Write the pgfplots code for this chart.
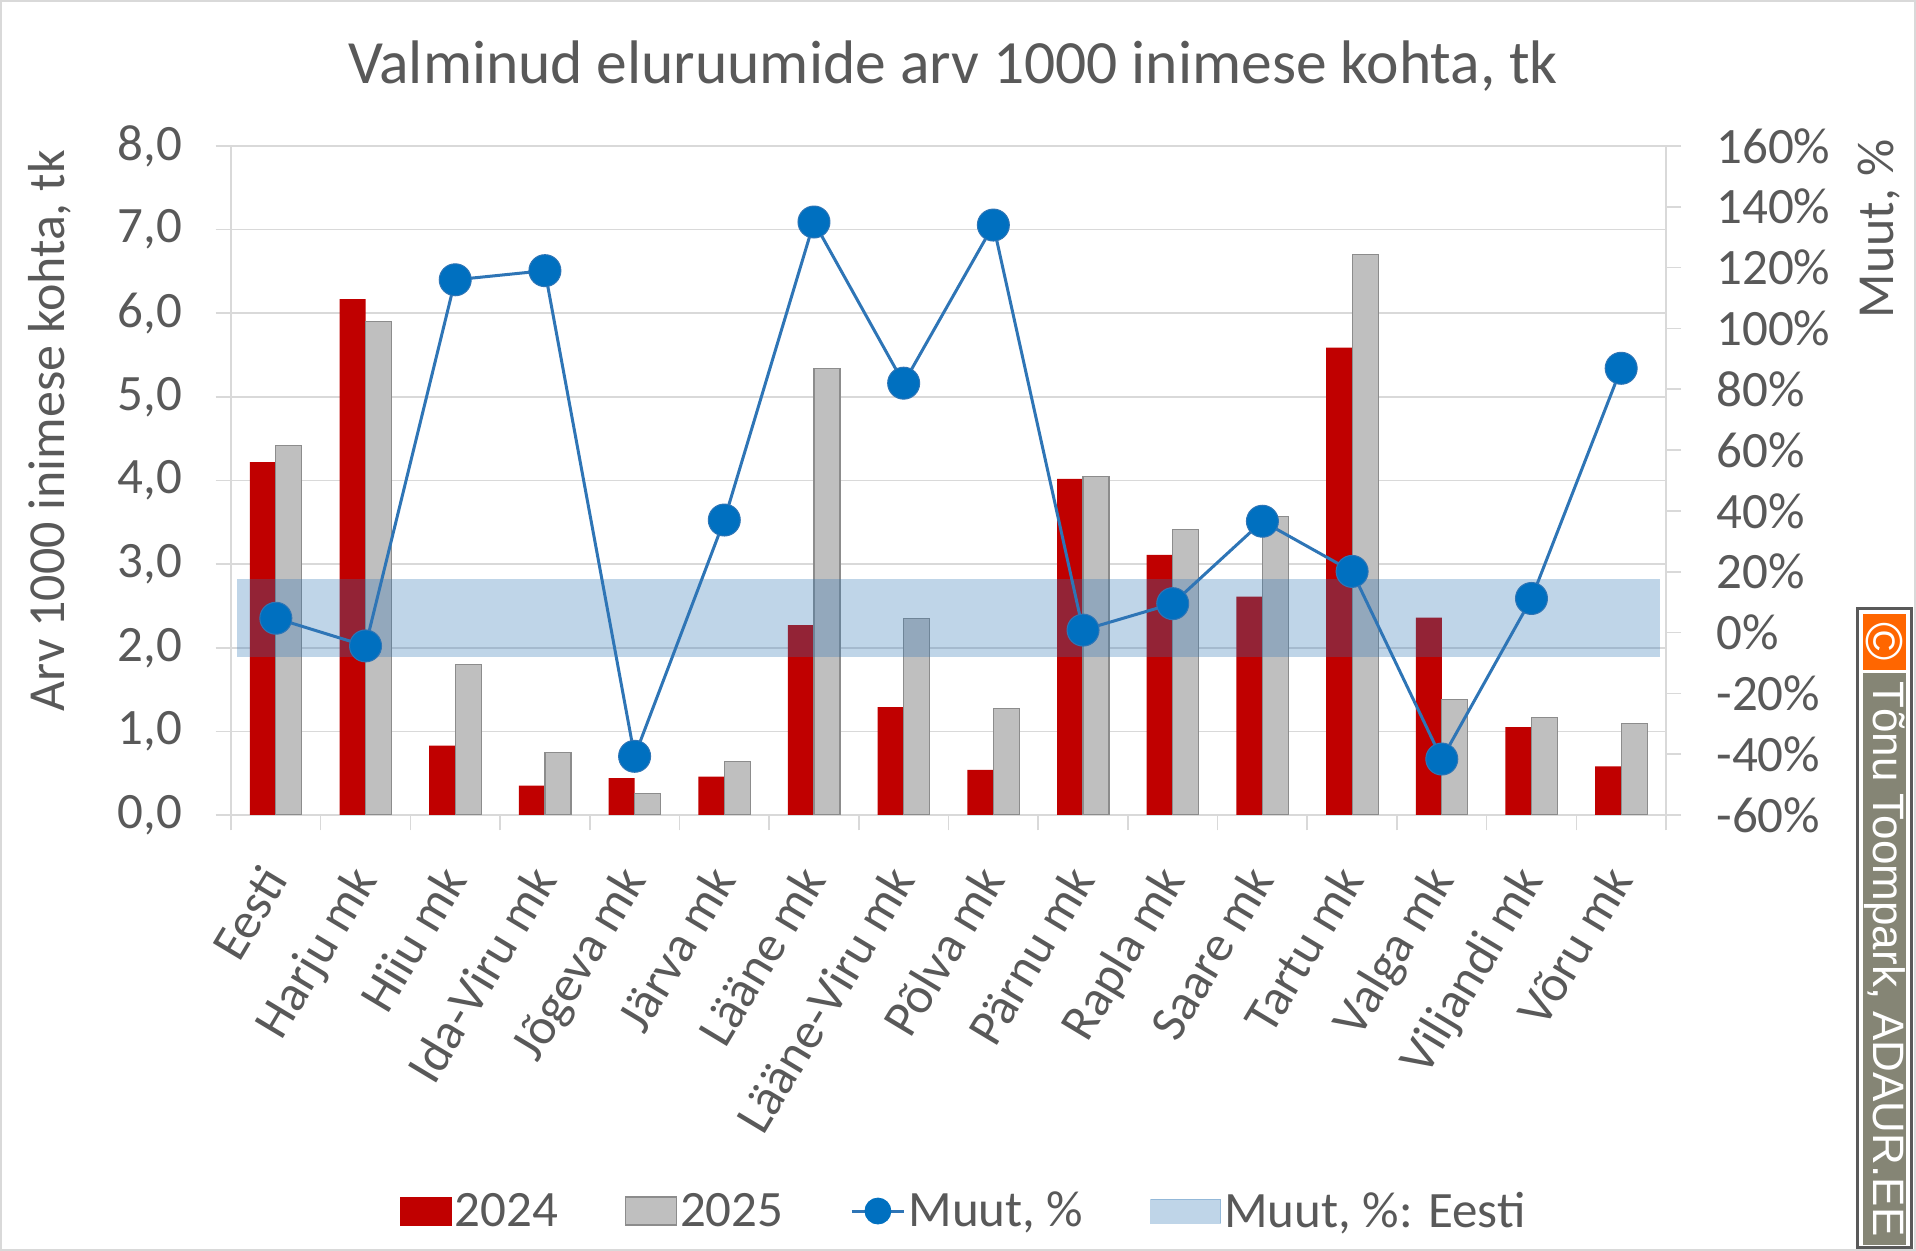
\documentclass[border=0pt]{standalone}
\usepackage{pgfplots}
\pgfplotsset{compat=1.18}
\usepackage{fontspec}
\setmainfont{Carlito}
\newfontfamily\wmfont{Liberation Sans}
\definecolor{txt}{HTML}{595959}
\definecolor{gridc}{HTML}{D9D9D9}
\definecolor{c24}{HTML}{C00000}
\definecolor{c25}{HTML}{BFBFBF}
\definecolor{c25b}{HTML}{8C8C8C}
\definecolor{linec}{HTML}{2E75B6}
\definecolor{markc}{HTML}{0070C0}
\definecolor{bandc}{HTML}{2E75B6}
\definecolor{wmgray}{HTML}{858575}
\definecolor{wmorange}{HTML}{FF6600}
\definecolor{wmborder}{HTML}{595959}
\newcommand{\fs}{\fontsize{25.5}{30}\selectfont}
\begin{document}
\begin{tikzpicture}
\useasboundingbox (0,0) rectangle (958pt,625.5pt);
\fill[white] (0,0) rectangle (958pt,625.5pt);
\draw[gridc, line width=1pt] (0.5pt,0.5pt) rectangle (957.5pt,625pt);

\begin{axis}[
  at={(115.5pt,218pt)}, anchor=south west,
  width=717.5pt, height=334.5pt, scale only axis,
  ybar=0pt, bar width=13pt,
  xmin=-0.5, xmax=15.5, ymin=0, ymax=8,
  enlargelimits=false,
  xtick={-0.5,0.5,1.5,2.5,3.5,4.5,5.5,6.5,7.5,8.5,9.5,10.5,11.5,12.5,13.5,14.5,15.5},
  x tick label as interval,
  xticklabels={Eesti,Harju mk,Hiiu mk,Ida-Viru mk,Jõgeva mk,Järva mk,Lääne mk,Lääne-Viru mk,Põlva mk,Pärnu mk,Rapla mk,Saare mk,Tartu mk,Valga mk,Viljandi mk,Võru mk},
  ytick={0,1,2,3,4,5,6,7,8},
  yticklabels={{0,0},{1,0},{2,0},{3,0},{4,0},{5,0},{6,0},{7,0},{8,0}},
  tick align=outside,
  xtick pos=left, ytick pos=left,
  major tick length=7.75pt,
  tick style={gridc, line width=0.8pt},
  axis line style={gridc, line width=0.8pt},
  ymajorgrids, grid style={gridc, line width=0.8pt},
  tick label style={font=\fs, text=txt},
  yticklabel style={inner sep=0pt, xshift=-16.5pt},
  xticklabel style={xshift=6.75pt, yshift=-24.75pt, rotate=59, anchor=base east, inner sep=0pt},
]
\addplot[fill=c24, draw=none] coordinates {
(0,4.22) (1,6.17) (2,0.83) (3,0.35) (4,0.44) (5,0.46) (6,2.27) (7,1.29)
(8,0.54) (9,4.02) (10,3.11) (11,2.61) (12,5.59) (13,2.36) (14,1.05) (15,0.58)};
\addplot[fill=c25, draw=c25b, line width=0.6pt] coordinates {
(0,4.42) (1,5.90) (2,1.80) (3,0.75) (4,0.26) (5,0.64) (6,5.34) (7,2.35)
(8,1.27) (9,4.05) (10,3.41) (11,3.57) (12,6.70) (13,1.38) (14,1.17) (15,1.09)};
\end{axis}

\begin{axis}[
  at={(115.5pt,218pt)}, anchor=south west,
  width=717.5pt, height=334.5pt, scale only axis,
  xmin=-0.5, xmax=15.5, ymin=-60, ymax=160,
  enlargelimits=false,
  axis line style={draw=none},
  xtick=\empty,
  ytick={-60,-40,-20,0,20,40,60,80,100,120,140,160},
  yticklabels={-60\%,-40\%,-20\%,0\%,20\%,40\%,60\%,80\%,100\%,120\%,140\%,160\%},
  ytick pos=right, yticklabel pos=right,
  tick align=outside, major tick length=7.5pt,
  tick style={gridc, line width=0.8pt},
  tick label style={font=\fs, text=txt},
  yticklabel style={inner sep=0pt, xshift=17.5pt},
  legend columns=4,
  legend style={at={(0.5108,-0.592)}, anchor=center, draw=none, fill=none,
    font=\fs, text=txt, inner sep=0pt,
    nodes={inner sep=1.5pt},
    /tikz/every odd column/.append style={column sep=0pt},
    /tikz/every even column/.append style={column sep=32pt}},
  legend cell align=left,
]
\addplot[forget plot, draw=bandc, opacity=0.3, line width=38.9pt] coordinates {(-0.433,4.67) (15.433,4.67)};
\addplot[forget plot, linec, line width=1.5pt, mark=*, mark size=8pt,
  mark options={fill=markc, draw=linec, line width=0.5pt}] coordinates {
(0,4.7) (1,-4.4) (2,116) (3,119) (4,-40.7) (5,37) (6,135) (7,82)
(8,134) (9,0.8) (10,9.5) (11,36.6) (12,20.1) (13,-41.6) (14,11.2) (15,86.9)};
\addlegendimage{legend image code/.code={\fill[c24] (0pt,-7pt) rectangle (25.5pt,7pt);}}
\addlegendentry{2024}
\addlegendimage{legend image code/.code={\filldraw[fill=c25, draw=c25b, line width=0.6pt] (0pt,-7pt) rectangle (25.5pt,7pt);}}
\addlegendentry{2025}
\addlegendimage{legend image code/.code={\draw[linec, line width=1.5pt] (0pt,0pt)--(26pt,0pt); \fill[markc] (13pt,0pt) circle (6.5pt);}}
\addlegendentry{Muut, \%}
\addlegendimage{legend image code/.code={\fill[bandc, opacity=0.3] (0pt,-6pt) rectangle (35pt,6pt);}}
\addlegendentry{Muut, \%: Eesti}
\end{axis}

\node[anchor=base, font=\fontsize{30.75}{36}\selectfont, text=txt] at (476.5pt,583.5pt) {Valminud eluruumide arv 1000 inimese kohta, tk};
\node[rotate=90, anchor=base, font=\fontsize{26}{30}\selectfont, text=txt] at (32pt,410pt) {Arv 1000 inimese kohta, tk};
\node[rotate=90, anchor=base, font=\fontsize{26}{30}\selectfont, text=txt] at (946.5pt,511pt) {Muut, \%};

% watermark
\fill[white] (928.75pt,1.5pt) rectangle (955.75pt,321pt);
\fill[wmorange] (931.5pt,290.5pt) rectangle (953pt,318.5pt);
\fill[wmgray] (931.5pt,3pt) rectangle (953pt,289pt);
\draw[wmborder, line width=1.5pt] (928.75pt,1.5pt) rectangle (955.75pt,321pt);
\node[rotate=-90, text=white, font=\wmfont\fontsize{26}{28}\selectfont, inner sep=0pt] at (942.25pt,304.5pt) {©};
\node[rotate=-90, text=white, font=\wmfont\fontsize{22}{26}\selectfont, inner sep=0pt] at (942.25pt,146pt) {Tõnu Toompark, ADAUR.EE};
\end{tikzpicture}
\end{document}
